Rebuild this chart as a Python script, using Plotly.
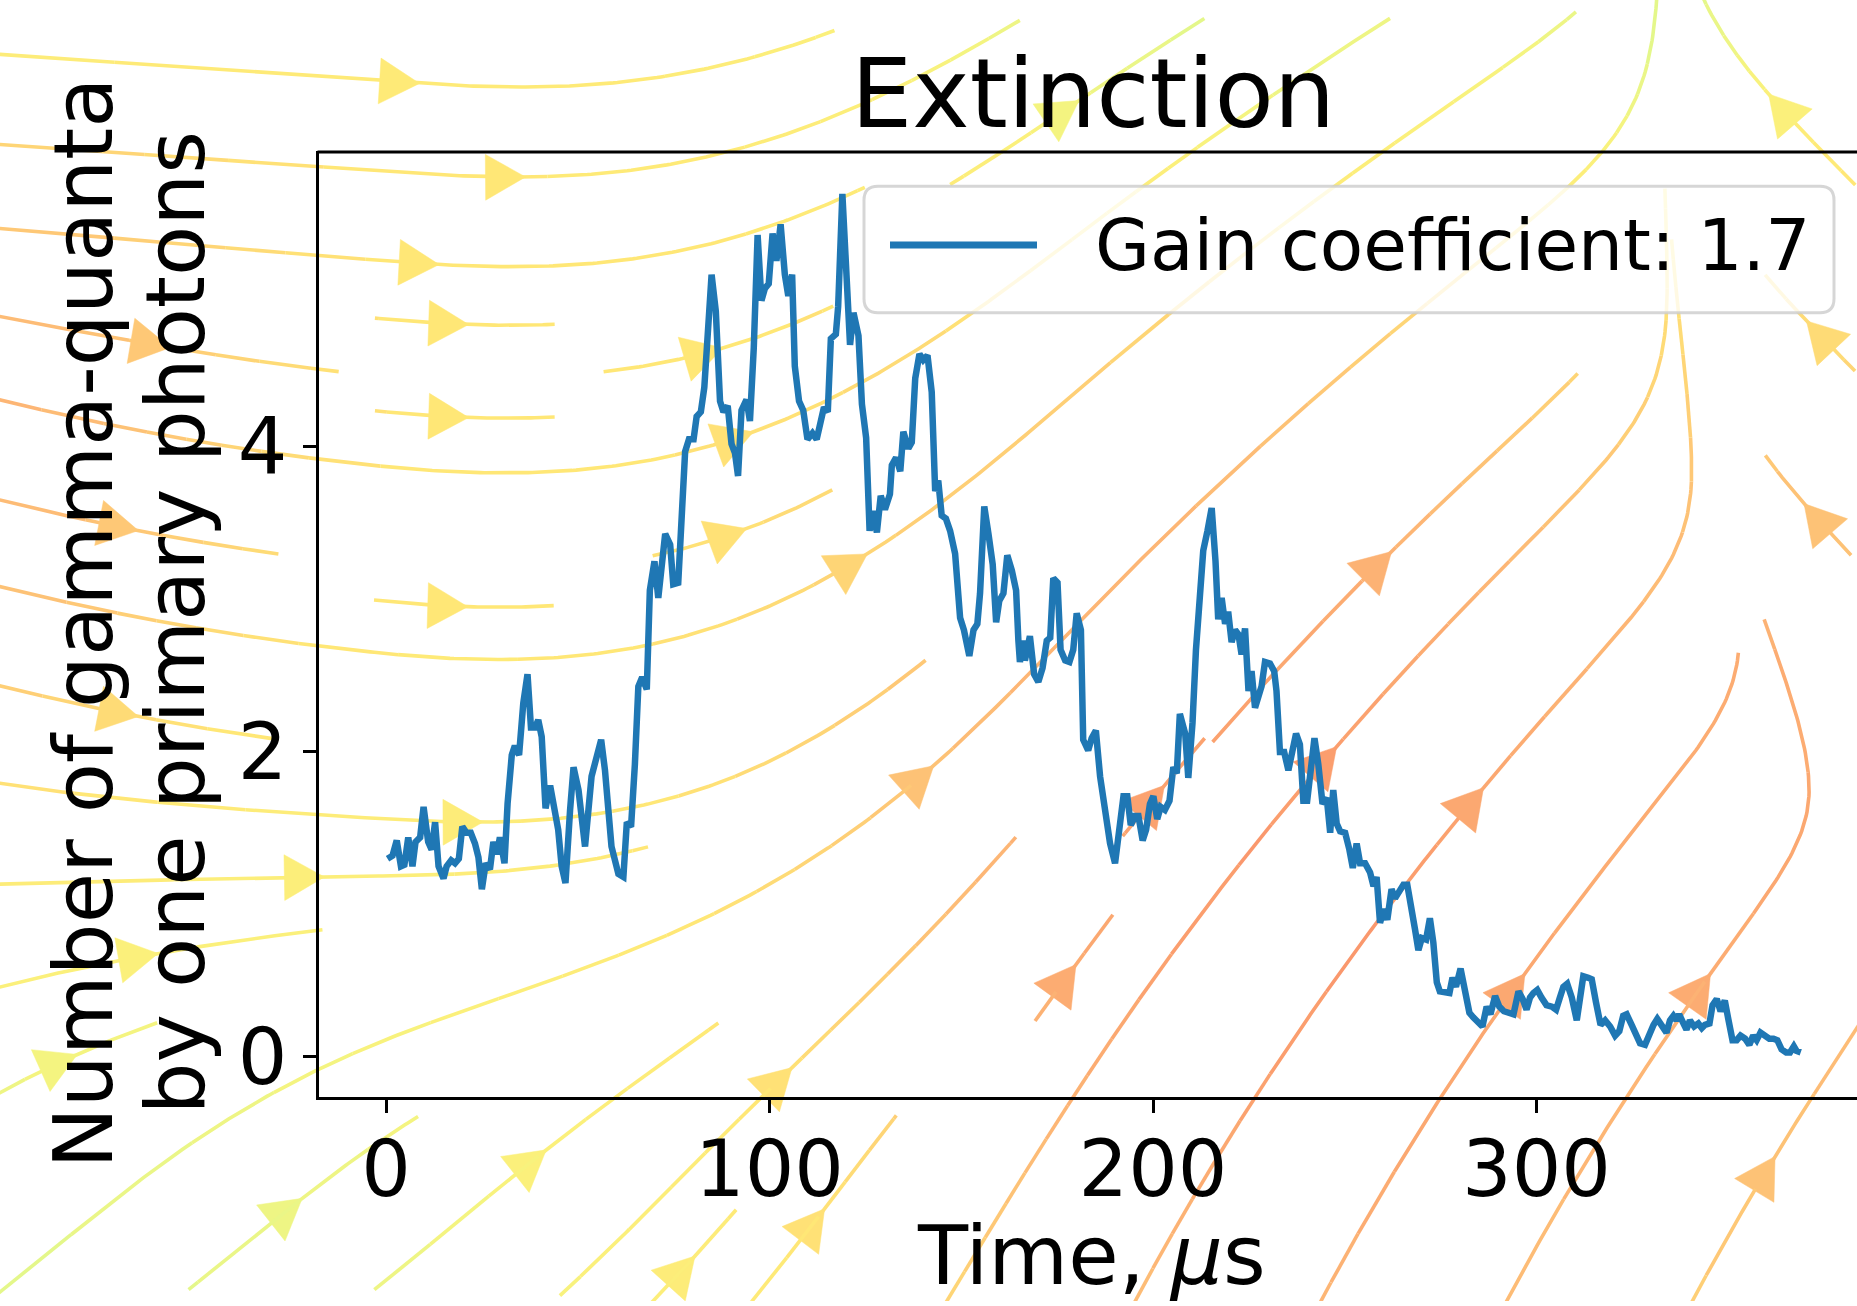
import math
import plotly.graph_objects as go

# ---------------- data ----------------
time_us = [
    0.4, 1.7, 2.8, 3.9, 4.8, 5.8, 6.9, 7.7, 8.9, 9.8, 11.0, 11.9, 12.8, 13.7, 15.0, 15.8, 17.0, 18.0, 19.0, 19.9,
    21.0, 22.1, 23.2, 24.1, 25.0, 26.0, 27.1, 28.0, 28.9, 29.7, 30.9, 31.7, 32.8, 33.6, 34.7, 35.8, 36.9, 37.8, 38.9, 39.7,
    40.6, 41.6, 42.8, 44.1, 44.9, 45.8, 46.8, 48.0, 48.9, 50.2, 51.9, 53.6, 54.7, 56.1, 57.1,
    58.8, 60.6, 61.9, 62.8, 63.9, 64.9, 65.8, 66.8, 68.0, 68.8, 70.0, 71.0, 71.9, 72.8, 74.1, 74.9, 76.2, 77.1, 78.0, 79.0,
    80.2, 81.0, 82.1, 83.0, 83.6, 84.9, 86.0, 87.1, 88.0, 89.1, 90.1, 91.0, 91.8, 92.7, 94.0, 94.9, 95.9, 96.9, 97.9, 98.8,
    99.8, 100.8, 101.8, 102.9, 104.0, 104.9, 105.9, 106.6, 107.7, 108.8, 109.9, 111.2, 112.3, 113.4, 114.2, 115.2, 116.0,
    117.3, 117.9, 119.0,
    120.1, 121.0, 121.9, 123.2, 124.1, 125.2, 126.1, 126.9, 128.0, 129.0, 130.1, 131.4, 131.9, 133.0, 134.1, 134.9, 136.2,
    137.1, 138.0, 139.1, 140.1, 141.2, 142.3, 143.2, 144.0, 144.9, 146.0, 147.1, 148.4, 149.7, 150.7, 152.1, 153.2, 154.2,
    154.9, 156.0, 157.1, 158.2, 159.1, 159.9, 161.0, 162.0, 163.2, 164.3, 164.9, 165.3, 166.0, 166.6, 167.9, 169.0, 170.1,
    171.2, 172.3, 173.2, 174.0, 175.1, 175.9, 177.1, 178.2, 179.2, 180.1, 181.2,
    181.8, 183.1, 184.0, 185.1, 186.2, 187.5, 188.8, 190.1, 191.2, 192.3, 193.3, 194.2, 195.3, 196.2, 197.3, 198.2, 199.2,
    200.1, 201.1, 202.0, 203.1, 204.3, 205.3, 206.2, 207.0, 208.4, 209.2, 210.3, 211.2, 212.3, 213.1, 214.2, 215.3, 216.3,
    217.0, 217.9, 218.8, 219.6, 220.5, 221.4, 222.3, 223.1, 224.0, 224.9, 225.7, 226.6, 227.5, 228.3, 229.2, 230.5, 231.6,
    232.2, 233.1, 234.2, 235.3, 236.2, 237.3, 238.3,
    239.2, 240.2, 240.9, 242.1, 243.1, 244.2, 245.3, 246.2, 247.0, 247.9, 248.8, 250.1, 251.2, 252.1, 253.1, 254.0, 255.3,
    256.6, 257.5, 258.3, 259.2, 260.2, 261.1, 262.2, 263.1, 264.2, 265.3, 266.3, 267.4, 268.3, 269.2, 270.1, 271.2, 272.2,
    273.1, 274.0, 274.8, 276.1, 277.3, 278.1, 279.0, 280.2, 281.4, 282.5, 283.5, 284.8, 285.9, 287.0, 288.0, 289.2, 290.3,
    291.5, 292.7, 294.0, 295.3, 296.4, 297.4,
    298.3, 299.2, 300.2, 301.3, 302.6, 304.0, 305.1, 306.1, 307.0, 308.0, 309.2, 310.5, 311.3, 312.2, 313.5, 314.4, 315.5,
    316.7, 317.9, 319.2, 320.5, 321.6, 322.6, 323.5, 324.8, 325.9, 327.0, 328.3, 329.4, 330.5, 331.5, 332.6, 333.9, 334.8,
    335.7, 336.5, 337.2, 338.3, 339.1, 340.0, 341.1, 342.2, 343.1, 343.9, 345.1, 345.9, 347.0, 348.0, 349.1, 350.0, 351.1,
    352.2, 353.2, 354.4, 355.5, 356.5, 357.4, 358.4, 359.6, 360.7, 361.8, 362.8, 363.9, 365.1, 366.1, 367.1, 367.8, 368.9,
]
gamma_per_photon = [
    1.30, 1.32, 1.42, 1.25, 1.26, 1.44, 1.25, 1.41, 1.44, 1.64, 1.41, 1.36, 1.54, 1.25, 1.17, 1.25, 1.29, 1.27, 1.30, 1.51,
    1.47, 1.47, 1.40, 1.31, 1.10, 1.27, 1.23, 1.41, 1.33, 1.44, 1.27, 1.66, 1.98, 2.04, 1.98, 2.32, 2.51, 2.16, 2.16, 2.21,
    2.10, 1.63, 1.78, 1.60, 1.49, 1.25, 1.14, 1.62, 1.90, 1.75, 1.38, 1.84, 1.94, 2.08, 1.88,
    1.38, 1.20, 1.18, 1.54, 1.51, 1.92, 2.43, 2.49, 2.41, 3.06, 3.25, 3.01, 3.18, 3.43, 3.36, 3.10, 3.11, 3.51, 3.97, 4.05,
    4.05, 4.20, 4.23, 4.39, 4.65, 5.13, 4.89, 4.30, 4.23, 4.27, 4.02, 3.96, 3.81, 4.24, 4.31, 4.17, 4.65, 5.39, 4.96, 5.04,
    5.07, 5.40, 5.22, 5.46, 5.13, 4.99, 5.13, 4.53, 4.30, 4.24, 4.05, 4.09, 4.05, 4.20, 4.26, 4.23, 4.71,
    4.74, 4.92, 5.66,
    5.13, 4.67, 4.88, 4.73, 4.28, 4.06, 3.45, 3.58, 3.44, 3.68, 3.59, 3.69, 3.88, 3.93, 3.84, 4.10, 3.99,
    4.03, 4.45, 4.61, 4.57, 4.60, 4.36, 3.71, 3.78, 3.55, 3.53, 3.45, 3.30, 2.88, 2.80, 2.63, 2.80, 2.84,
    3.04, 3.61, 3.43, 3.23, 2.85, 2.99, 3.04, 3.29, 3.19, 3.06, 2.73, 2.59, 2.73, 2.60, 2.76, 2.51, 2.46,
    2.55, 2.73, 2.75, 3.14, 3.11, 2.67, 2.60, 2.59, 2.67, 2.91, 2.80,
    2.08, 2.01, 2.09, 2.14, 1.84, 1.60, 1.40, 1.27, 1.49, 1.71, 1.71, 1.52, 1.58, 1.58, 1.42, 1.49, 1.66,
    1.71, 1.56, 1.64, 1.62, 1.68, 1.90, 1.86, 2.25, 2.12, 1.83, 2.19, 2.67, 3.08, 3.32, 3.45, 3.60, 3.25,
    2.87, 3.01, 2.84, 2.92, 2.72, 2.80, 2.77, 2.64, 2.81, 2.40, 2.53, 2.29, 2.36, 2.43, 2.59, 2.58, 2.53,
    2.40, 2.00, 2.00, 1.88, 2.01, 2.12, 2.05,
    1.68, 1.68, 1.84, 2.09, 1.92, 1.66, 1.70, 1.47, 1.75, 1.53, 1.48, 1.47, 1.36, 1.24, 1.40, 1.27, 1.27,
    1.21, 1.12, 1.18, 0.88, 0.97, 0.90, 1.10, 1.04, 1.09, 1.13, 1.13, 0.99, 0.84, 0.70, 0.78, 0.77, 0.91,
    0.75, 0.49, 0.43, 0.42, 0.42, 0.52, 0.46, 0.58, 0.40, 0.29, 0.26, 0.22, 0.20, 0.33, 0.28, 0.40, 0.33,
    0.30, 0.29, 0.28, 0.43, 0.38, 0.31,
    0.39, 0.42, 0.44, 0.39, 0.34, 0.33, 0.31, 0.39, 0.46, 0.48, 0.39, 0.24, 0.36, 0.53, 0.52, 0.51, 0.36,
    0.21, 0.24, 0.20, 0.14, 0.17, 0.27, 0.28, 0.21, 0.14, 0.09, 0.08, 0.15, 0.21, 0.25, 0.20, 0.16, 0.24,
    0.27, 0.24, 0.28, 0.22, 0.18, 0.24, 0.20, 0.22, 0.19, 0.21, 0.22, 0.34, 0.38, 0.30, 0.37, 0.25, 0.11,
    0.11, 0.14, 0.12, 0.08, 0.14, 0.11, 0.16, 0.14, 0.12, 0.12, 0.11, 0.05, 0.03, 0.03, 0.07, 0.04, 0.03,
]
x_tick_values = [0, 100, 200, 300]
y_tick_values = [0, 2, 4]
title_text = "Extinction"
x_label = "Time, <i>μ</i>s"
y_label_lines = ["Number of gamma-quanta", "by one primary photons"]
legend_label = "Gain coefficient: 1.7"

# ---------------- geometry / style ----------------
W, H = 1857, 1306
FONT = "DejaVu Sans"
AX_L, AX_T, AX_B = 319, 152, 1101
X_RANGE = [-17.47, 383.57]
Y_RANGE = [-0.261, 5.938]
BLUE = "#1f77b4"


# ---------------- decorative background stream field ----------------
def clip01(v):
    return 0.0 if v < 0 else (1.0 if v > 1 else v)


def ss(t):
    t = clip01(t)
    return t * t * (3 - 2 * t)


def field(x, y):
    xn, f = x / W, y / H
    s = ss((xn - 0.2) / 0.4)
    dip = -10 * (1 - clip01(xn / 0.25)) * ss((f - 0.15) / 0.15) * (1 - ss((f - 0.55) / 0.1))
    th_l = -4 + 43 * ss((f - 0.6) / 0.35) + dip
    th_r = 32 + 30 * f
    th = th_l + (th_r - th_l) * s
    a = min(1660 + 32 * (max(y, 0) / 475.0) ** 3, 2200)
    if x < a:
        th = th + (90 - th) * math.exp(-(a - x) / 45.0)
    else:
        th = 90 + 45 * math.tanh((x - a) / 70.0)
    r = math.radians(th)
    return math.cos(r), -math.sin(r)


def cval(x, y):
    xn, f = x / W, y / H

    def g(dx, dy, sx, sy):
        return math.exp(-(dx * dx / (2 * sx * sx) + dy * dy / (2 * sy * sy)))

    c = (0.62 - 0.6 * g(xn - 0.7, f - 0.7, 0.17, 0.3) - 0.35 * g(xn, f - 0.35, 0.1, 0.2)
         + 0.4 * g(xn - 0.65, f, 0.15, 0.12) + 0.35 * g(xn - 0.05, f - 1.0, 0.25, 0.25)
         - 0.3 * g(xn - 0.97, f - 0.6, 0.06, 0.2) + 0.3 * g(xn - 0.9, f, 0.05, 0.12)
         + 0.25 * g(xn, f, 0.12, 0.05))
    return clip01(c)


STOPS = [(0.0, (250, 150, 108)), (0.3, (253, 186, 118)), (0.6, (255, 231, 118)),
         (0.8, (250, 242, 124)), (1.0, (226, 248, 140))]


def cmap(t):
    for (t0, c0), (t1, c1) in zip(STOPS[:-1], STOPS[1:]):
        if t <= t1:
            s = (t - t0) / (t1 - t0)
            return "rgb(%d,%d,%d)" % tuple(round(a + (b - a) * s) for a, b in zip(c0, c1))
    return "rgb(%d,%d,%d)" % STOPS[-1][1]


NCX, NCY = 20, 14
CW, CH = W / NCX, H / NCY
DS = 4.0
PAD = 8
mask = [[False] * NCX for _ in range(NCY)]


def cell(x, y):
    return (min(max(int(x / CW), 0), NCX - 1), min(max(int(y / CH), 0), NCY - 1))


def inside(x, y):
    return -PAD <= x <= W + PAD and -PAD <= y <= H + PAD


def unit(x, y, sgn):
    u, v = field(x, y)
    s = math.hypot(u, v)
    if s < 1e-9:
        return None
    return sgn * u / s, sgn * v / s


def integrate(x0, y0, sgn, marked):
    pts = [(x0, y0)]
    x, y = x0, y0
    cur = cell(x, y)
    length = 0.0
    while length < 6000:
        d1 = unit(x, y, sgn)
        if d1 is None:
            break
        xm, ym = x + 0.5 * DS * d1[0], y + 0.5 * DS * d1[1]
        d2 = unit(xm, ym, sgn)
        if d2 is None:
            break
        xn, yn = x + DS * d2[0], y + DS * d2[1]
        if not inside(xn, yn):
            break
        c = cell(xn, yn)
        if c != cur:
            if mask[c[1]][c[0]]:
                break
            mask[c[1]][c[0]] = True
            marked.append(c)
            cur = c
        x, y = xn, yn
        pts.append((x, y))
        length += DS
    return pts


def spiral(nx, ny):
    xfirst, yfirst, xlast, ylast = 0, 1, nx - 1, ny - 1
    x = y = 0
    direction = "right"
    for _ in range(nx * ny):
        yield x, y
        if direction == "right":
            x += 1
            if x >= xlast:
                xlast -= 1
                direction = "up"
        elif direction == "up":
            y += 1
            if y >= ylast:
                ylast -= 1
                direction = "left"
        elif direction == "left":
            x -= 1
            if x <= xfirst:
                xfirst += 1
                direction = "down"
        else:
            y -= 1
            if y <= yfirst:
                yfirst += 1
                direction = "right"


streams = []
for i, j in spiral(NCX, NCY):
    row = NCY - 1 - j  # rows counted from the bottom, as matplotlib does
    if mask[row][i]:
        continue
    x0, y0 = (i + 0.5) * CW, (row + 0.5) * CH
    mask[row][i] = True
    marked = [(i, row)]
    back = integrate(x0, y0, -1, marked)
    fwd = integrate(x0, y0, 1, marked)
    pts = back[::-1] + fwd[1:]
    if len(pts) * DS < 130:
        for (a, b) in marked:
            mask[b][a] = False
        continue
    streams.append(pts)

NB = 24
seg_x = {b: [] for b in range(NB)}
seg_y = {b: [] for b in range(NB)}
tri_x = {b: [] for b in range(NB)}
tri_y = {b: [] for b in range(NB)}


def cbin(x, y):
    return min(int(cval(x, y) * NB), NB - 1)


for pts in streams:
    run = [pts[0]]
    rb = cbin(*pts[0])
    for k in range(1, len(pts)):
        mx, my = (pts[k - 1][0] + pts[k][0]) / 2, (pts[k - 1][1] + pts[k][1]) / 2
        b = cbin(mx, my)
        if b != rb and len(run) > 1:
            seg_x[rb] += [p[0] for p in run] + [None]
            seg_y[rb] += [p[1] for p in run] + [None]
            run = [pts[k - 1]]
        rb = b
        run.append(pts[k])
    if len(run) > 1:
        seg_x[rb] += [p[0] for p in run] + [None]
        seg_y[rb] += [p[1] for p in run] + [None]
    n = len(pts) // 2
    if n + 1 < len(pts):
        (ax, ay), (bx, by) = pts[n], pts[n + 1]
        dx, dy = bx - ax, by - ay
        d = math.hypot(dx, dy)
        dx, dy = dx / d, dy / d
        tx, ty = (ax + bx) / 2, (ay + by) / 2
        bx0, by0 = tx - 40 * dx, ty - 40 * dy
        px, py = -dy * 23, dx * 23
        b = cbin(tx, ty)
        tri_x[b] += [tx, bx0 + px, bx0 - px, tx, None]
        tri_y[b] += [ty, by0 + py, by0 - py, ty, None]

fig = go.Figure()
for b in range(NB):
    col = cmap((b + 0.5) / NB)
    if seg_x[b]:
        fig.add_trace(go.Scatter(x=seg_x[b], y=seg_y[b], mode="lines", line=dict(color=col, width=3.6),
                                 hoverinfo="skip", showlegend=False, xaxis="x", yaxis="y"))
    if tri_x[b]:
        fig.add_trace(go.Scatter(x=tri_x[b], y=tri_y[b], mode="lines", fill="toself", fillcolor=col,
                                 line=dict(color=col, width=0.5), hoverinfo="skip", showlegend=False,
                                 xaxis="x", yaxis="y"))

# ---------------- main data line ----------------
fig.add_trace(go.Scatter(x=time_us, y=gamma_per_photon, mode="lines", name=legend_label,
                         line=dict(color=BLUE, width=6.5), showlegend=False, xaxis="x2", yaxis="y2"))

axis_common = dict(showline=True, linewidth=3, linecolor="black", ticks="outside", ticklen=13,
                   tickwidth=3, tickcolor="black", showgrid=False, zeroline=False,
                   tickfont=dict(family=FONT, size=78, color="black"))

lx0, ly0, lx1, ly1, r = 864, 187, 1834, 314, 14
legend_path = (f"M {lx0 + r},{ly0} L {lx1 - r},{ly0} Q {lx1},{ly0} {lx1},{ly0 + r} L {lx1},{ly1 - r} "
               f"Q {lx1},{ly1} {lx1 - r},{ly1} L {lx0 + r},{ly1} Q {lx0},{ly1} {lx0},{ly1 - r} "
               f"L {lx0},{ly0 + r} Q {lx0},{ly0} {lx0 + r},{ly0} Z")

shapes = [
    dict(type="line", xref="x", yref="y", x0=AX_L - 1.5, x1=W, y0=AX_T + 0.5, y1=AX_T + 0.5,
         line=dict(color="black", width=3), layer="above"),
    dict(type="path", xref="x", yref="y", path=legend_path, fillcolor="rgba(255,255,255,0.8)",
         line=dict(color="rgba(204,204,204,0.8)", width=3), layer="above"),
    dict(type="line", xref="x", yref="y", x0=890, x1=1037, y0=246, y1=246,
         line=dict(color=BLUE, width=7), layer="above"),
]

annotations = [
    dict(text=title_text, x=1093, y=94, xref="x", yref="y", showarrow=False,
         font=dict(family=FONT, size=97, color="black"), xanchor="center", yanchor="middle"),
    dict(text=x_label, x=1091, y=1260, xref="x", yref="y", showarrow=False,
         font=dict(family=FONT, size=82, color="black"), xanchor="center", yanchor="middle"),
    dict(text=y_label_lines[0], x=84, y=626, xref="x", yref="y", showarrow=False, textangle=-90,
         font=dict(family=FONT, size=82, color="black"), xanchor="center", yanchor="middle"),
    dict(text=y_label_lines[1], x=176, y=626, xref="x", yref="y", showarrow=False, textangle=-90,
         font=dict(family=FONT, size=82, color="black"), xanchor="center", yanchor="middle"),
    dict(text=legend_label, x=1093, y=246, xref="x", yref="y", showarrow=False,
         font=dict(family=FONT, size=71, color="black"), xanchor="left", yanchor="middle"),
]

fig.update_layout(
    width=W, height=H, margin=dict(l=0, r=0, t=0, b=0),
    paper_bgcolor="white", plot_bgcolor="rgba(0,0,0,0)",
    xaxis=dict(domain=[0, 1], range=[0, W], visible=False, fixedrange=True),
    yaxis=dict(domain=[0, 1], range=[H, 0], visible=False, fixedrange=True),
    xaxis2=dict(domain=[AX_L / W, 1], range=X_RANGE, anchor="y2", tickvals=x_tick_values,
                ticktext=[str(v) for v in x_tick_values], ticklabelstandoff=-10, **axis_common),
    yaxis2=dict(domain=[(H - AX_B) / H, (H - AX_T) / H], range=Y_RANGE, anchor="x2",
                tickvals=y_tick_values, ticktext=[str(v) for v in y_tick_values], **axis_common),
    shapes=shapes, annotations=annotations, showlegend=False,
)

fig.write_html("out.html")
